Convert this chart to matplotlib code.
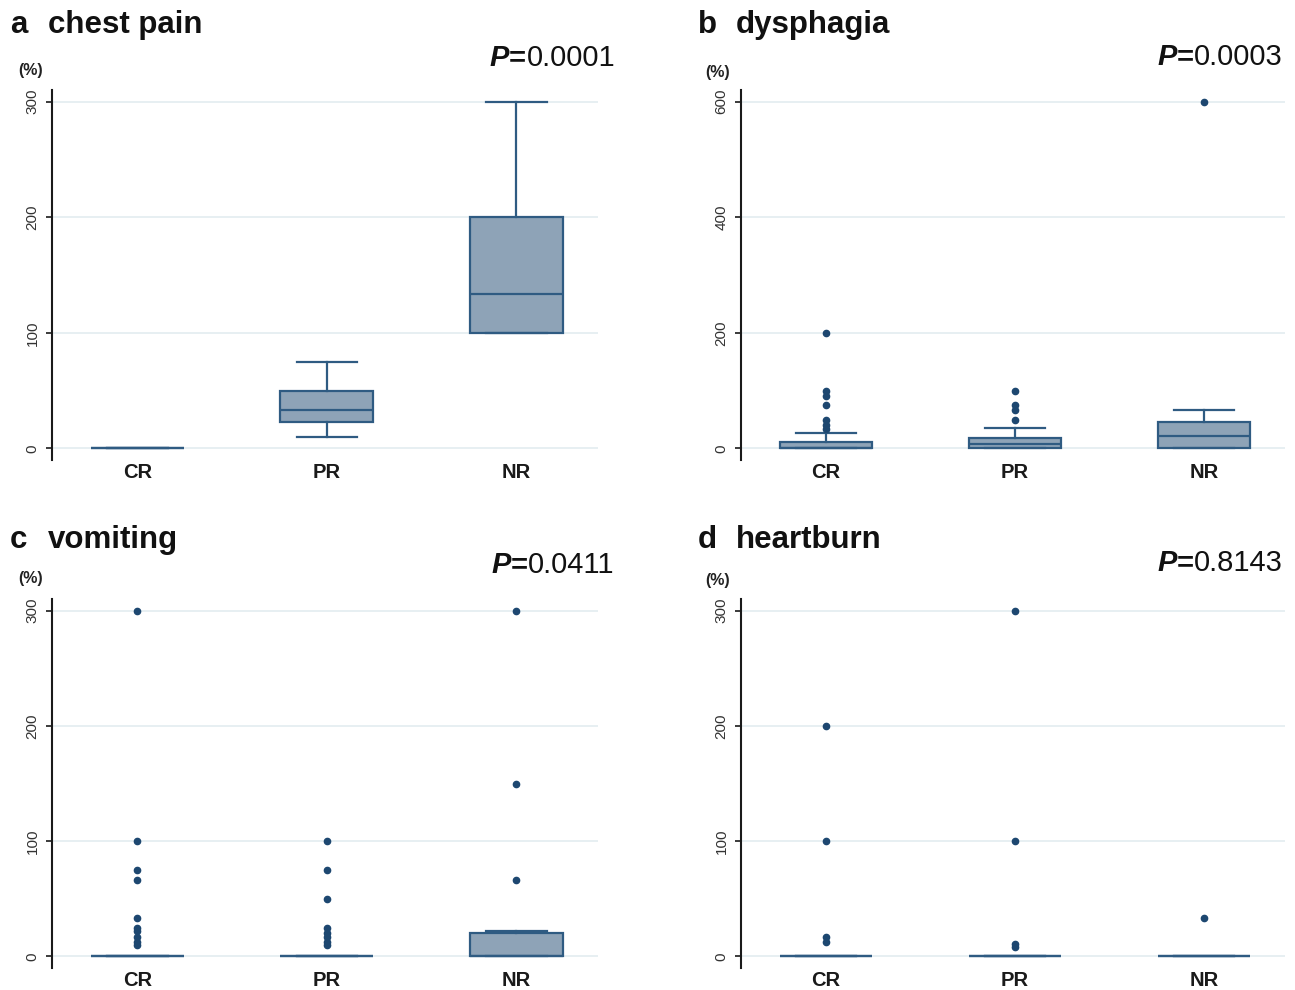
import matplotlib
matplotlib.use("Agg")
import matplotlib.pyplot as plt

plt.rcParams["font.family"] = ["Liberation Sans", "DejaVu Sans"]

W, H = 1295, 990

groups = ["CR", "PR", "NR"]

# a: chest pain (% change), five-number summaries per response group
chest_q1 = [0, 22.5, 100]
chest_med = [0, 33.3, 133.3]
chest_q3 = [0, 50, 200]
chest_lo = [0, 10, 100]
chest_hi = [0, 75, 300]
chest_out = [[], [], []]

# b: dysphagia
dysph_q1 = [0, 0, 0]
dysph_med = [0, 8, 22]
dysph_q3 = [12, 18, 45]
dysph_lo = [0, 0, 0]
dysph_hi = [26, 36, 66.7]
dysph_out = [[200, 100, 90, 75, 50, 40, 33.3], [100, 75, 66.7, 50], [600]]

# c: vomiting
vomit_q1 = [0, 0, 0]
vomit_med = [0, 0, 0]
vomit_q3 = [0, 0, 20]
vomit_lo = [0, 0, 0]
vomit_hi = [0, 0, 22.2]
vomit_out = [[300, 100, 75, 66.7, 33.3, 25, 22.2, 16.7, 12.5, 10],
             [100, 75, 50, 25, 20, 16.7, 12.5, 10],
             [300, 150, 66.7]]

# d: heartburn
heart_q1 = [0, 0, 0]
heart_med = [0, 0, 0]
heart_q3 = [0, 0, 0]
heart_lo = [0, 0, 0]
heart_hi = [0, 0, 0]
heart_out = [[200, 100, 16.7, 12.5], [300, 100, 11.1, 8.3], [33.3]]

panels = [
    dict(letter="a", name="chest pain", p="0.0001", ticks=[0, 100, 200, 300],
         q1=chest_q1, med=chest_med, q3=chest_q3, lo=chest_lo, hi=chest_hi, out=chest_out,
         box=(52, 90, 598, 460), title_y=25, p_y=58, pct=(31, 71), p_x=615),
    dict(letter="b", name="dysphagia", p="0.0003", ticks=[0, 200, 400, 600],
         q1=dysph_q1, med=dysph_med, q3=dysph_q3, lo=dysph_lo, hi=dysph_hi, out=dysph_out,
         box=(741, 90, 1285, 460), title_y=25, p_y=57, pct=(718, 72), p_x=1283),
    dict(letter="c", name="vomiting", p="0.0411", ticks=[0, 100, 200, 300],
         q1=vomit_q1, med=vomit_med, q3=vomit_q3, lo=vomit_lo, hi=vomit_hi, out=vomit_out,
         box=(52, 599, 598, 968), title_y=540, p_y=565, pct=(31, 578), p_x=614),
    dict(letter="d", name="heartburn", p="0.8143", ticks=[0, 100, 200, 300],
         q1=heart_q1, med=heart_med, q3=heart_q3, lo=heart_lo, hi=heart_hi, out=heart_out,
         box=(741, 599, 1285, 968), title_y=540, p_y=563, pct=(718, 580), p_x=1283),
]

BOX_FACE = "#8ea3b7"
BOX_EDGE = "#2f5b82"
DOT = "#1d4770"
GRID = "#e7eff2"
INK = "#111111"

fig = plt.figure(figsize=(W / 100, H / 100), dpi=100)
fig.patch.set_facecolor("white")


def fx(px):
    return px / W


def fy(py):
    return 1 - py / H


renderer = fig.canvas.get_renderer()

for pnl in panels:
    x0, y0, x1, y1 = pnl["box"]
    ax = fig.add_axes([fx(x0), fy(y1), fx(x1) - fx(x0), fy(y0) - fy(y1)])
    top = pnl["ticks"][-1]
    ax.set_ylim(-top / 30, top * 31 / 30)
    ax.set_xlim(-0.45, 2.43)

    stats = []
    for i, g in enumerate(groups):
        stats.append(dict(label=g, q1=pnl["q1"][i], med=pnl["med"][i], q3=pnl["q3"][i],
                          whislo=pnl["lo"][i], whishi=pnl["hi"][i], fliers=pnl["out"][i]))
    ax.bxp(stats, positions=[0, 1, 2], widths=0.49, patch_artist=True,
           showfliers=True, capwidths=0.32,
           boxprops=dict(facecolor=BOX_FACE, edgecolor=BOX_EDGE, linewidth=1.6),
           medianprops=dict(color=BOX_EDGE, linewidth=1.6),
           whiskerprops=dict(color=BOX_EDGE, linewidth=1.6),
           capprops=dict(color=BOX_EDGE, linewidth=1.6),
           flierprops=dict(marker="o", markersize=4.5, markerfacecolor=DOT,
                           markeredgecolor=DOT, linestyle="none"))

    ax.set_yticks(pnl["ticks"])
    ax.set_yticklabels([str(t) for t in pnl["ticks"]],
                       family=["Liberation Sans Narrow", "Liberation Sans", "DejaVu Sans"])
    ax.yaxis.grid(True, color=GRID, linewidth=1.4, zorder=0)
    ax.set_axisbelow(True)
    for s in ("top", "right", "bottom"):
        ax.spines[s].set_visible(False)
    ax.spines["left"].set_linewidth(1.5)
    ax.spines["left"].set_color("#1a1a1a")
    ax.tick_params(axis="y", direction="out", length=4, width=1.2, pad=5,
                   labelsize=11, labelcolor="#333333", labelrotation=90, color="#1a1a1a")
    for lab in ax.get_yticklabels():
        lab.set_va("center")
    ax.tick_params(axis="x", length=0, pad=2, labelsize=14.5, labelcolor="#1a1a1a")
    for lab in ax.get_xticklabels():
        lab.set_fontweight("bold")

    # panel heading: letter and symptom name
    lx = 10 if x0 < 400 else 698
    fig.text(fx(lx), fy(pnl["title_y"]), pnl["letter"], fontsize=22.5,
             fontweight="bold", ha="left", va="center", color=INK)
    fig.text(fx(lx + 38), fy(pnl["title_y"]), pnl["name"], fontsize=22.5,
             fontweight="bold", ha="left", va="center", color=INK)
    fig.text(fx(pnl["pct"][0]), fy(pnl["pct"][1]), "(%)", fontsize=11.5,
             fontweight="bold", ha="center", va="center", color="#222222")

    # P value: bold italic P, bold "=", regular digits
    num = fig.text(fx(pnl["p_x"]), fy(pnl["p_y"]), pnl["p"], fontsize=21,
                   ha="right", va="center", color=INK)
    bb = num.get_window_extent(renderer=renderer)
    eq = fig.text(bb.x0 / W, fy(pnl["p_y"]), "=", fontsize=21, fontweight="bold",
                  ha="right", va="center", color=INK)
    bb = eq.get_window_extent(renderer=renderer)
    fig.text(bb.x0 / W, fy(pnl["p_y"]), "P", fontsize=21, fontweight="bold",
             fontstyle="italic", ha="right", va="center", color=INK)

fig.savefig("out.png", dpi=100, facecolor="white")
